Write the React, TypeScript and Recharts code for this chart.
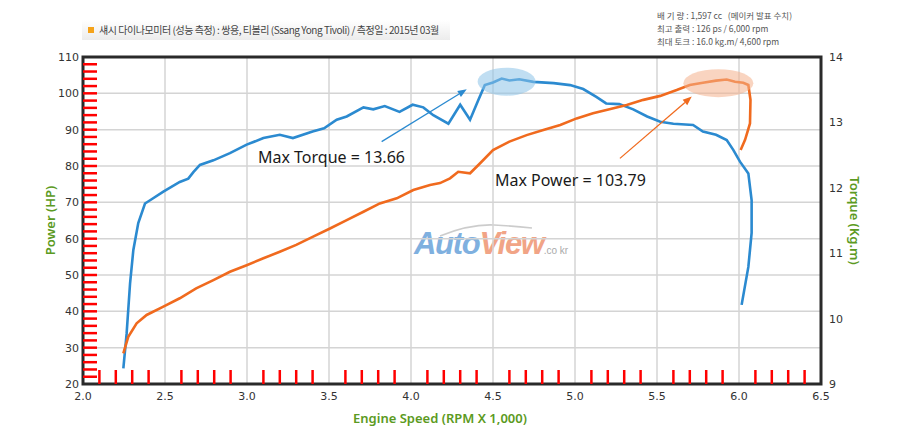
import React from 'react'
import {
  LineChart,
  Line,
  XAxis,
  YAxis,
  CartesianGrid,
  ReferenceArea,
  ReferenceDot,
  ReferenceLine,
  Label,
} from 'recharts'

document.body.style.margin = '0'

// 토크 곡선 (Kg.m) - 그림에서 읽은 값
const torqueRpm = [
  2.246, 2.266, 2.287, 2.307, 2.337, 2.378, 2.409, 2.49, 2.59, 2.642, 2.673, 2.713, 2.795, 2.896, 2.998,
  3.1, 3.2, 3.28, 3.4, 3.47, 3.547, 3.608, 3.71, 3.77, 3.84, 3.93, 4.01, 4.075, 4.136, 4.228, 4.3, 4.36,
  4.41, 4.45, 4.5, 4.553, 4.6, 4.66, 4.746, 4.87, 4.97, 5.05, 5.13, 5.19, 5.27, 5.355, 5.44, 5.52, 5.6,
  5.72, 5.78, 5.86, 5.925, 5.965, 6.006, 6.057, 6.077, 6.077, 6.057, 6.016,
]
const torqueKgm = [
  9.24, 9.77, 10.54, 11.05, 11.46, 11.76, 11.81, 11.94, 12.09, 12.14, 12.24, 12.35, 12.42, 12.53, 12.66,
  12.76, 12.81, 12.76, 12.86, 12.91, 13.04, 13.09, 13.23, 13.2, 13.25, 13.16, 13.27, 13.23, 13.11, 12.98,
  13.27, 13.04, 13.34, 13.57, 13.61, 13.67, 13.64, 13.66, 13.62, 13.6, 13.57, 13.51, 13.39, 13.29, 13.28,
  13.2, 13.09, 13.01, 12.98, 12.96, 12.86, 12.81, 12.73, 12.58, 12.4, 12.22, 11.81, 11.31, 10.79, 10.21,
]

// 출력 곡선 (HP)
const powerRpm = [
  2.246, 2.276, 2.327, 2.388, 2.49, 2.59, 2.69, 2.795, 2.896, 2.998, 3.1, 3.2, 3.3, 3.4, 3.506, 3.608,
  3.71, 3.81, 3.913, 4.014, 4.116, 4.177, 4.238, 4.288, 4.36, 4.42, 4.5, 4.6, 4.705, 4.807, 4.91, 5.01,
  5.11, 5.21, 5.315, 5.417, 5.52, 5.62, 5.7, 5.78, 5.86, 5.925, 5.976, 6.026, 6.057, 6.07, 6.067, 6.037,
  6.01,
]
const powerHp = [
  28.4, 33.0, 36.7, 39.0, 41.3, 43.6, 46.3, 48.6, 50.9, 52.7, 54.6, 56.4, 58.3, 60.5, 62.8, 65.1, 67.4,
  69.7, 71.1, 73.4, 74.8, 75.3, 76.6, 78.4, 78.0, 80.7, 84.4, 86.7, 88.5, 89.9, 91.3, 93.1, 94.5, 95.6,
  96.8, 98.2, 99.3, 100.9, 102.3, 102.9, 103.5, 103.79, 103.2, 102.9, 102.3, 98.2, 91.7, 87.2, 84.4,
]

// 축 눈금
const rpmTicks = [2.0, 2.5, 3.0, 3.5, 4.0, 4.5, 5.0, 5.5, 6.0, 6.5]
const hpTicks = [20, 30, 40, 50, 60, 70, 80, 90, 100, 110]
const torqueTicks = [9, 10, 11, 12, 13, 14]
const rpmMinorTicks = [
  2.1, 2.2, 2.3, 2.4, 2.6, 2.7, 2.8, 2.9, 3.1, 3.2, 3.3, 3.4, 3.6, 3.7, 3.8, 3.9, 4.1, 4.2, 4.3, 4.4,
  4.6, 4.7, 4.8, 4.9, 5.1, 5.2, 5.3, 5.4, 5.6, 5.7, 5.8, 5.9, 6.1, 6.2, 6.3, 6.4,
]
const hpMinorTicks = [
  22, 24, 26, 28, 30, 32, 34, 36, 38, 40, 42, 44, 46, 48, 50, 52, 54, 56, 58, 60, 62, 64, 66, 68, 70,
  72, 74, 76, 78, 80, 82, 84, 86, 88, 90, 92, 94, 96, 98, 100, 102, 104, 106, 108,
]
const gridRpm = [2.5, 3.0, 3.5, 4.0, 4.5, 5.0, 5.5, 6.0]
const gridHp = [30, 40, 50, 60, 70, 80, 90, 100]

const specLines = [
  '배 기 량 : 1,597 cc   (메이커 발표 수치)',
  '최고 출력 : 126 ps / 6,000 rpm',
  '최대 토크 : 16.0 kg.m/ 4,600 rpm',
]

const torqueData = torqueRpm.map((rpm, i) => ({ rpm, torque: torqueKgm[i] }))
const powerData = powerRpm.map((rpm, i) => ({ rpm, power: powerHp[i] }))

const BLUE = '#2b8ad0'
const ORANGE = '#f06a1e'
const GREEN = '#5b9a22'
const FRAME = '#2a2a2a'
const TICK_FONT = 'DejaVu Sans, Verdana, sans-serif'

// 안쪽으로 향하는 작은 눈금
const bottomTick = (p: any) => {
  const yb = Math.max(Number(p.y1), Number(p.y2))
  return <path d={`M${p.x1},${yb}V${yb - 14}`} stroke="red" strokeWidth={2.5} fill="none" />
}
const leftTick = (p: any) => {
  const xl = Math.min(Number(p.x1), Number(p.x2))
  return <path d={`M${xl},${p.y1}H${xl + 14}`} stroke="red" strokeWidth={2.5} fill="none" />
}

function Arrow(props: any) {
  const { x1, y1, x2, y2, stroke } = props
  const a = Math.atan2(y2 - y1, x2 - x1)
  const len = 9
  const w = 3.5
  const bx = x2 - len * Math.cos(a)
  const by = y2 - len * Math.sin(a)
  const px = -Math.sin(a) * w
  const py = Math.cos(a) * w
  return (
    <g>
      <line x1={x1} y1={y1} x2={bx} y2={by} stroke={stroke} strokeWidth={1.3} />
      <polygon points={`${x2},${y2} ${bx + px},${by + py} ${bx - px},${by - py}`} fill={stroke} />
    </g>
  )
}

const noteText = (text: string) => (p: any) => (
  <text x={p.cx} y={p.cy} dy={6} fontSize={16} fontFamily="Noto Sans, sans-serif" fill="#1a1a1a">
    {text}
  </text>
)

const glow = (color: string, rx: number) => (p: any) => (
  <ellipse cx={p.cx} cy={p.cy} rx={rx} ry={14} fill={color} fillOpacity={0.55} />
)

const tickStyle = { fontSize: 11, fill: '#333', fontFamily: TICK_FONT }

export default function App() {
  return (
    <div style={{ position: 'relative', width: 900, height: 436, background: '#fff', fontFamily: 'Noto Sans, sans-serif' }}>
      {/* 제목 */}
      <div
        style={{
          position: 'absolute',
          left: 82,
          top: 20,
          width: 368,
          height: 20,
          background: 'linear-gradient(to bottom, #ffffff, #ececec)',
        }}
      />
      <div style={{ position: 'absolute', left: 88, top: 27, width: 6, height: 6, background: '#f5a31a' }} />
      <div
        style={{
          position: 'absolute',
          left: 99,
          top: 22,
          fontSize: 10,
          letterSpacing: -0.45,
          color: '#444',
          fontFamily: 'Noto Sans CJK KR, sans-serif',
          whiteSpace: 'nowrap',
        }}
      >
        섀시 다이나모미터 (성능 측정) : 쌍용, 티볼리 (Ssang Yong Tivoli) / 측정일 : 2015년 03월
      </div>
      <div style={{ position: 'absolute', left: 657, top: 9 }}>
        {specLines.map((s) => (
          <div
            key={s}
            style={{
              fontSize: 8.5,
              lineHeight: '13px',
              color: '#555',
              fontFamily: 'Noto Sans CJK KR, sans-serif',
              whiteSpace: 'pre',
            }}
          >
            {s}
          </div>
        ))}
      </div>

      {/* 워터마크 */}
      <svg width={900} height={436} style={{ position: 'absolute', left: 0, top: 0, pointerEvents: 'none' }}>
        <path d="M440,236 Q470,224 494,225 Q514,226 532,228" stroke="#aaa" strokeWidth={1.6} fill="none" opacity={0.6} />
        <text x={414} y={254} fontSize={31} fontWeight={900} fontStyle="italic" fontFamily="Liberation Sans, Arial, sans-serif" letterSpacing={-1.3}>
          <tspan fill="#7fb0df">Auto</tspan>
          <tspan fill="#f1a486">View</tspan>
          <tspan fill="#aaa" fontSize={10} fontWeight={400} fontStyle="normal" letterSpacing={0}>.co kr</tspan>
        </text>
      </svg>

      <div style={{ position: 'absolute', left: 0, top: 0 }}>
        <LineChart width={900} height={436} margin={{ top: 57, right: 19, bottom: 0, left: 23 }}>
          <CartesianGrid
            stroke="#d4d4d4"
            strokeWidth={1.5}
            verticalValues={gridRpm}
            horizontalValues={gridHp}
          />
          <XAxis
            dataKey="rpm"
            type="number"
            domain={[2, 6.5]}
            ticks={rpmTicks}
            interval={0}
            tickSize={0}
            tickMargin={8}
            tickLine={false}
            axisLine={false}
            tick={tickStyle}
            tickFormatter={(v: number) => v.toFixed(1)}
            height={52}
            allowDataOverflow
          >
            <Label
              value="Engine Speed (RPM X 1,000)"
              position="insideBottom"
              offset={13}
              dx={-12}
              style={{ fill: GREEN, fontSize: 13, fontWeight: 600, fontFamily: 'Noto Sans, sans-serif' }}
            />
          </XAxis>
          <YAxis
            type="number"
            domain={[20, 110]}
            ticks={hpTicks}
            interval={0}
            tickSize={0}
            tickMargin={4}
            tickLine={false}
            axisLine={false}
            tick={tickStyle}
            width={60}
            allowDataOverflow
          >
            <Label
              value="Power (HP)"
              angle={-90}
              position="insideLeft"
              offset={27}
              style={{ fill: GREEN, fontSize: 13, fontWeight: 600, textAnchor: 'middle', fontFamily: 'Noto Sans, sans-serif' }}
            />
          </YAxis>
          <YAxis
            yAxisId="torque"
            orientation="right"
            type="number"
            domain={[9, 14]}
            ticks={torqueTicks}
            interval={0}
            tickSize={0}
            tickMargin={8}
            tickLine={false}
            axisLine={false}
            tick={tickStyle}
            width={60}
            allowDataOverflow
          >
            <Label
              value="Torque (Kg.m)"
              angle={90}
              position="insideRight"
              offset={26}
              style={{ fill: GREEN, fontSize: 13, fontWeight: 600, textAnchor: 'middle', fontFamily: 'Noto Sans, sans-serif' }}
            />
          </YAxis>

          {rpmMinorTicks.map((v) => (
            <ReferenceLine key={`rx${v}`} x={v} stroke={FRAME} shape={bottomTick} />
          ))}
          {hpMinorTicks.map((v) => (
            <ReferenceLine key={`ry${v}`} y={v} stroke={FRAME} shape={leftTick} />
          ))}

          <ReferenceDot x={4.583} y={103.2} r={0} shape={glow('#8cc3e8', 29)} />
          <ReferenceDot x={5.874} y={102.8} r={0} shape={glow('#f4b08c', 35)} />

          <Line
            data={torqueData}
            yAxisId="torque"
            dataKey="torque"
            type="linear"
            stroke={BLUE}
            strokeWidth={2.6}
            dot={false}
            isAnimationActive={false}
          />
          <Line
            data={powerData}
            dataKey="power"
            type="linear"
            stroke={ORANGE}
            strokeWidth={2.6}
            dot={false}
            isAnimationActive={false}
          />

          <ReferenceLine
            segment={[{ x: 3.821, y: 86.7 }, { x: 4.34, y: 101.1 }]}
            stroke={BLUE}
            shape={(p: any) => <Arrow {...p} stroke={BLUE} />}
          />
          <ReferenceLine
            segment={[{ x: 5.274, y: 82.1 }, { x: 5.712, y: 99.1 }]}
            stroke={ORANGE}
            shape={(p: any) => <Arrow {...p} stroke={ORANGE} />}
          />
          <ReferenceDot x={3.067} y={82.4} r={0} shape={noteText('Max Torque = 13.66')} />
          <ReferenceDot x={4.512} y={76.1} r={0} shape={noteText('Max Power = 103.79')} />

          <ReferenceArea x1={2} x2={6.5} y1={20} y2={110} fill="none" stroke={FRAME} strokeWidth={3} />
        </LineChart>
      </div>
    </div>
  )
}
